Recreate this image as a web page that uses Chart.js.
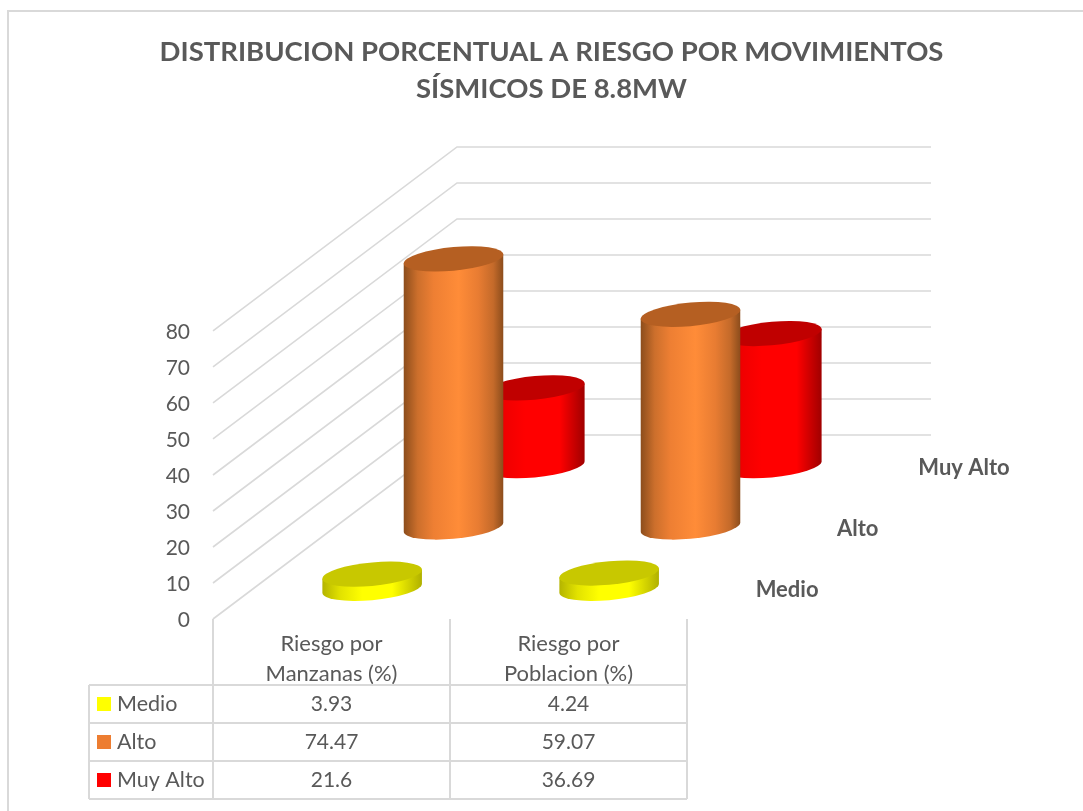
<!DOCTYPE html>
<html>
<head>
<meta charset="utf-8">
<title>Distribucion porcentual</title>
<script src="https://cdn.jsdelivr.net/npm/chart.js@4"></script>
<style>
    html, body { margin: 0; padding: 0; background: #fff; }
    #wrap { position: relative; width: 1083px; height: 811px; }
</style>
</head>
<body>
<div id="wrap"><canvas id="myChart"></canvas></div>
<script>
var chartTitle = ["DISTRIBUCION PORCENTUAL A RIESGO POR MOVIMIENTOS", "SÍSMICOS DE 8.8MW"];
var categories = [["Riesgo por", "Manzanas (%)"], ["Riesgo por", "Poblacion (%)"]];
var seriesNames = ["Medio", "Alto", "Muy Alto"];
var medio = [3.93, 4.24];
var alto = [74.47, 59.07];
var muyAlto = [21.6, 36.69];
var seriesValues = [medio, alto, muyAlto];

var swatch = ["#ffff00", "#ed7d31", "#ff0000"];
var capColor = ["#c8c800", "#b55f22", "#c00000"];
var bodyStops = [
    [[0, "#b4b400"], [0.18, "#e2e200"], [0.4, "#ffff00"], [0.7, "#ffff00"], [1, "#b0b000"]],
    [[0, "#8c4d1c"], [0.14, "#cc6f2c"], [0.3, "#ee7f33"], [0.55, "#ff8c38"], [0.75, "#e87c32"], [0.9, "#c46a2a"], [1, "#8c4d1c"]],
    [[0, "#b00000"], [0.2, "#f00000"], [0.4, "#ff0000"], [0.75, "#ff0000"], [1, "#a00000"]]
];

var textColor = "#595959";
var lineColor = "#d9d9d9";
var fontName = "Lato, Carlito, sans-serif";

// the box floor goes back this far, in pixels, for the whole depth of the chart
var depthX = 244, depthY = -184;
var tableLeft = 89, tableHeaderBottom = 685, rowHeight = 38;

function seriesOffset(i) {
    var f = (i + 0.5) / seriesNames.length;
    return { x: depthX * f, y: depthY * f };
}

// cylinder drawn on top of the bar element's x / y / base
function drawCylinder(ctx, el, index, offset) {
    var rx = el.width / 2, ry = 11.8, shear = 4.5;
    var h = el.base - el.y;
    ctx.save();
    ctx.translate(el.x + offset.x, el.base + offset.y);
    ctx.transform(1, -shear / rx, 0, 1, 0, 0);

    var grad = ctx.createLinearGradient(-rx, 0, rx, 0);
    bodyStops[index].forEach(function (s) { grad.addColorStop(s[0], s[1]); });
    ctx.fillStyle = grad;
    ctx.beginPath();
    ctx.moveTo(-rx, -h);
    ctx.lineTo(-rx, 0);
    ctx.ellipse(0, 0, rx, ry, 0, Math.PI, 0, true);
    ctx.lineTo(rx, -h);
    ctx.closePath();
    ctx.fill();

    ctx.fillStyle = capColor[index];
    ctx.beginPath();
    ctx.ellipse(0, -h, rx, ry, 0, 0, Math.PI * 2);
    ctx.fill();
    ctx.restore();
}

// side wall and back wall lines, all taken from the y scale
var wallsPlugin = {
    id: "walls",
    beforeDatasetsDraw: function (chart) {
        var ctx = chart.ctx, y = chart.scales.y, x = chart.scales.x;
        ctx.save();
        ctx.strokeStyle = lineColor;
        ctx.lineWidth = 1.6;
        ctx.beginPath();
        y.ticks.forEach(function (t) {
            var py = y.getPixelForValue(t.value);
            ctx.moveTo(x.left, py);
            ctx.lineTo(x.left + depthX, py + depthY);
            ctx.lineTo(x.right + depthX, py + depthY);
        });
        ctx.stroke();
        ctx.restore();
    }
};

// cylinders replace the flat bars
var cylinderPlugin = {
    id: "cylinders",
    beforeDatasetDraw: function (chart, args) {
        var meta = args.meta;
        var offset = seriesOffset(args.index);
        meta.data.forEach(function (el) {
            drawCylinder(chart.ctx, el, args.index, offset);
        });
        return false;
    }
};

// depth axis labels and data table under the x scale
var tablePlugin = {
    id: "dataTable",
    afterDraw: function (chart) {
        var ctx = chart.ctx, x = chart.scales.x, y = chart.scales.y;
        var bottom = y.bottom;
        var rows = seriesNames.length;
        var tableBottom = tableHeaderBottom + rows * rowHeight;
        var i, j;
        ctx.save();

        // chart frame
        ctx.strokeStyle = lineColor;
        ctx.lineWidth = 2;
        ctx.beginPath();
        ctx.moveTo(8, 811);
        ctx.lineTo(8, 11);
        ctx.lineTo(1083, 11);
        ctx.stroke();

        // table lines
        ctx.beginPath();
        var colEdges = [x.left];
        for (j = 0; j < categories.length; j++) {
            colEdges.push(x.getPixelForValue(j) + (x.getPixelForValue(1) - x.getPixelForValue(0)) / 2);
        }
        colEdges.forEach(function (cx) {
            ctx.moveTo(cx, bottom);
            ctx.lineTo(cx, tableBottom);
        });
        ctx.moveTo(tableLeft, tableHeaderBottom);
        ctx.lineTo(tableLeft, tableBottom);
        for (i = 0; i <= rows; i++) {
            ctx.moveTo(tableLeft, tableHeaderBottom + i * rowHeight);
            ctx.lineTo(x.right, tableHeaderBottom + i * rowHeight);
        }
        ctx.stroke();

        // table text
        ctx.textBaseline = "middle";
        for (i = 0; i < rows; i++) {
            var rowMid = tableHeaderBottom + (i + 0.5) * rowHeight;
            ctx.fillStyle = swatch[i];
            ctx.fillRect(97, rowMid - 7, 14, 14);
            ctx.fillStyle = textColor;
            ctx.font = "21.5px " + fontName;
            ctx.textAlign = "left";
            ctx.fillText(seriesNames[i], 117, rowMid);
            ctx.font = "21px " + fontName;
            ctx.textAlign = "center";
            for (j = 0; j < categories.length; j++) {
                ctx.fillText(String(seriesValues[i][j]), x.getPixelForValue(j), rowMid);
            }
        }

        // series names along the floor's right edge
        ctx.font = "bold 22px " + fontName;
        ctx.textAlign = "left";
        for (i = 0; i < rows; i++) {
            var o = seriesOffset(i);
            ctx.fillText(seriesNames[i], x.right + o.x + 28, bottom + o.y + 2);
        }
        ctx.restore();
    }
};

var datasets = [];
for (var i = 0; i < seriesNames.length; i++) {
    datasets.push({
        label: seriesNames[i],
        data: seriesValues[i],
        backgroundColor: swatch[i],
        categoryPercentage: 1,
        barPercentage: 0.42
    });
}

var ctx = document.getElementById("myChart");
var myChart = new Chart(ctx, {
    type: "bar",
    data: { labels: categories, datasets: datasets },
    plugins: [wallsPlugin, cylinderPlugin, tablePlugin],
    options: {
        responsive: true,
        maintainAspectRatio: false,
        animation: false,
        layout: { padding: { left: 20, right: 0, top: 0, bottom: 0 } },
        plugins: {
            legend: { display: false },
            tooltip: { enabled: false },
            title: {
                display: true,
                text: chartTitle,
                color: textColor,
                font: { family: fontName, size: 27.5, weight: "bold", lineHeight: 1.345 },
                padding: { top: 34, bottom: 223 }
            }
        },
        scales: {
            x: {
                stacked: true,
                offset: true,
                grid: { display: false },
                border: { display: false },
                ticks: {
                    color: textColor,
                    font: { family: fontName, size: 22, lineHeight: 1.36 },
                    maxRotation: 0,
                    autoSkip: false,
                    padding: 2
                },
                afterFit: function (scale) { scale.height = 192; }
            },
            y: {
                min: 0,
                max: 80,
                grid: { display: false, drawTicks: false },
                border: { display: false },
                ticks: {
                    stepSize: 10,
                    color: textColor,
                    font: { family: fontName, size: 21 },
                    padding: 23,
                    labelOffset: 1
                },
                afterFit: function (scale) { scale.width = 193; }
            },
            // keeps the plot to the left part of the canvas, the depth runs into this space
            spacer: {
                position: "right",
                display: true,
                grid: { display: false },
                border: { display: false },
                ticks: { display: false },
                afterFit: function (scale) { scale.width = 396; }
            }
        }
    }
});
</script>
</body>
</html>
